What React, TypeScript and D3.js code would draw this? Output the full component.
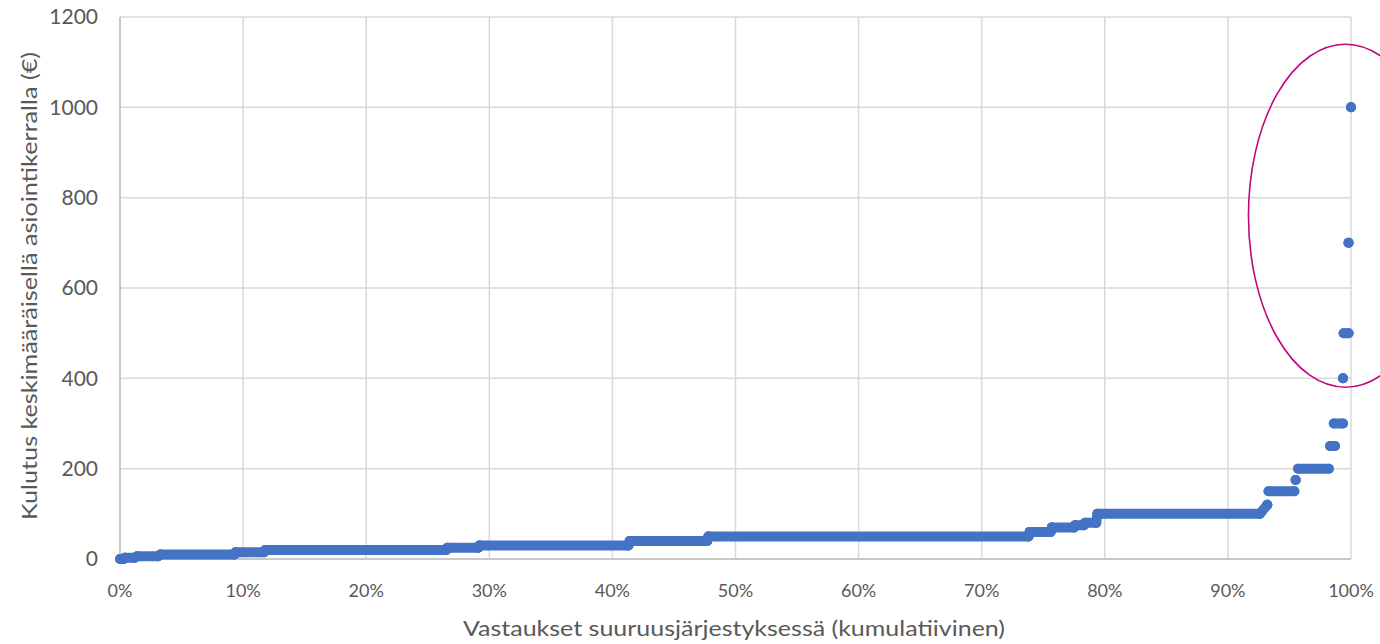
import React from "react";
import * as d3 from "d3";

// Step segments of the sorted responses: cumulative share (%) start / end, and spend (€)
const stepStart = [0, 0.4, 1.4, 3.3, 9.4, 11.8, 26.6, 29.2, 41.4, 47.8, 73.9, 75.7, 77.6, 78.4, 79.4, 93.2, 93.3, 95.5, 95.7, 98.3, 98.6, 99.35, 99.4, 99.8, 100];
const stepEnd = [0.3, 1.2, 3.1, 9.3, 11.7, 26.5, 29.1, 41.3, 47.7, 73.8, 75.6, 77.5, 78.3, 79.3, 92.6, 93.2, 95.4, 95.5, 98.2, 98.7, 99.35, 99.35, 99.8, 99.8, 100];
const stepValue = [0, 3, 6, 10, 15, 20, 25, 30, 40, 50, 60, 70, 75, 80, 100, 120, 150, 175, 200, 250, 300, 400, 500, 700, 1000];

const xTicks = [0, 10, 20, 30, 40, 50, 60, 70, 80, 90, 100];
const yTicks = [0, 200, 400, 600, 800, 1000, 1200];

const yTitle = "Kulutus keskimääräisellä asiointikerralla (€)";
const xTitle = "Vastaukset suuruusjärjestyksessä (kumulatiivinen)";

export default function App() {
  const W = 1380, H = 644;
  const x = d3.scaleLinear().domain([0, 100]).range([120, 1351]);
  const y = d3.scaleLinear().domain([0, 1200]).range([559, 17]);
  const font = "Lato, 'Open Sans', sans-serif";
  const gray = "#595959";
  const blue = "#4472C4";
  const r = 5;

  const segs = stepValue.map((v, i) => ({ s: stepStart[i], e: stepEnd[i], v }));

  return (
    <svg width={W} height={H} style={{ position: "absolute", left: 0, top: 0, background: "#fff" }}>
      {/* grid */}
      {yTicks.map((t) => (
        <line key={"gy" + t} x1={x(0)} x2={x(100)} y1={y(t)} y2={y(t)} stroke="#D9D9D9" strokeWidth={1.5} />
      ))}
      {xTicks.map((t) => (
        <line key={"gx" + t} x1={x(t)} x2={x(t)} y1={y(1200)} y2={y(0)} stroke="#D9D9D9" strokeWidth={1.5} />
      ))}
      <line x1={x(0)} x2={x(100)} y1={y(0)} y2={y(0)} stroke="#BFBFBF" strokeWidth={1.5} />
      <line x1={x(0)} x2={x(0)} y1={y(1200)} y2={y(0)} stroke="#BFBFBF" strokeWidth={1.5} />

      {/* data */}
      <g fill={blue} stroke={blue}>
        {segs.map((d, i) => (
          <g key={"s" + i}>
            <line x1={x(d.s)} x2={x(d.e)} y1={y(d.v)} y2={y(d.v)} strokeWidth={2 * r} strokeLinecap="round" />
            <circle cx={x(d.s)} cy={y(d.v)} r={r} stroke="none" />
            <circle cx={x(d.e)} cy={y(d.v)} r={r} stroke="none" />
          </g>
        ))}
        {/* transitions between neighbouring steps */}
        {segs.slice(1).map((d, i) => {
          const p = segs[i];
          if (d.v - p.v > 20) return null;
          return (
            <line key={"t" + i} x1={x(p.e)} x2={x(d.s)} y1={y(p.v)} y2={y(d.v)} strokeWidth={2 * r} strokeLinecap="round" />
          );
        })}
      </g>

      {/* annotation ellipse */}
      <ellipse cx={x(99.55)} cy={y(760)} rx={97} ry={171.5} fill="none" stroke="#C0087F" strokeWidth={1.6} />

      {/* y tick labels */}
      {yTicks.map((t) => (
        <text key={"ly" + t} x={98} y={y(t)} dy="0.35em" textAnchor="end" fontFamily={font} fontSize={21} fill={gray}>
          {t}
        </text>
      ))}
      {/* x tick labels */}
      {xTicks.map((t) => (
        <text key={"lx" + t} x={x(t)} y={597} textAnchor="middle" fontFamily={font} fontSize={18} fill={gray}>
          {t + "%"}
        </text>
      ))}

      {/* axis titles */}
      <text
        transform={`translate(37,${286}) rotate(-90)`}
        textAnchor="middle"
        fontFamily={font}
        fontSize={21}
        fill={gray}
        textLength={468}
        lengthAdjust="spacingAndGlyphs"
      >
        {yTitle}
      </text>
      <text x={734} y={636} textAnchor="middle" fontFamily={font} fontSize={21} fill={gray} textLength={542} lengthAdjust="spacingAndGlyphs">
        {xTitle}
      </text>
    </svg>
  );
}
